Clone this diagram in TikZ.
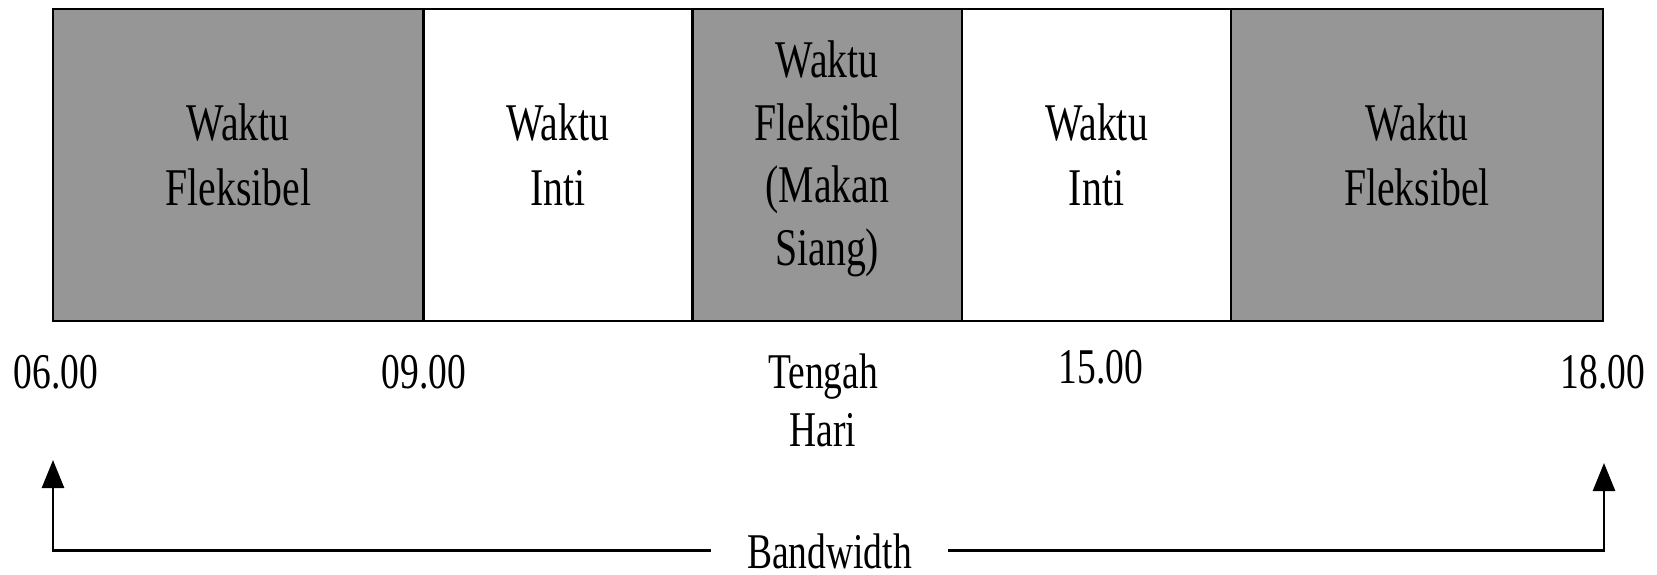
\documentclass[tikz,border=0pt]{standalone}
\usepackage{fontspec}
\setmainfont{Liberation Serif}[FakeStretch=0.75]
\usetikzlibrary{arrows.meta}
\definecolor{flexgray}{RGB}{150,150,150}
\tikzset{
  seg/.style={draw, line width=2.6pt, inner sep=0pt, outer sep=0pt, minimum height=312pt},
  flexseg/.style={seg, fill=flexgray},
  coreseg/.style={seg, fill=white},
  boxlbl/.style={inner sep=0pt, anchor=base, font=\fontsize{53}{65}\selectfont},
  timelbl/.style={inner sep=0pt, anchor=base, font=\fontsize{50}{58.4}\selectfont},
  conn/.style={line width=2.7pt, -{Triangle[width=22pt,length=28pt]}},
}
\begin{document}
\begin{tikzpicture}[x=1pt, y=-1pt]
\useasboundingbox (0,0) rectangle (1657,574);
% segments
\node[flexseg, minimum width=370.5pt] (s1) at (238.25,165) {};
\node[coreseg, minimum width=269pt]   (s2) at (558,165) {};
\node[flexseg, minimum width=269.5pt] (s3) at (827.25,165) {};
\node[coreseg, minimum width=269pt]   (s4) at (1096.5,165) {};
\node[flexseg, minimum width=372pt]   (s5) at (1417,165) {};
% segment labels
\node[boxlbl] (t1) at (238.25,140.5) {\begin{tabular}[t]{@{}c@{}}Waktu\\Fleksibel\end{tabular}};
\node[boxlbl] (t2) at (558,140.5) {\begin{tabular}[t]{@{}c@{}}Waktu\\Inti\end{tabular}};
\node[boxlbl, font=\fontsize{53}{62.7}\selectfont] (t3) at (827.25,77.3) {\begin{tabular}[t]{@{}c@{}}Waktu\\Fleksibel\\(Makan\\Siang)\end{tabular}};
\node[boxlbl] (t4) at (1096.5,140.5) {\begin{tabular}[t]{@{}c@{}}Waktu\\Inti\end{tabular}};
\node[boxlbl] (t5) at (1417,140.5) {\begin{tabular}[t]{@{}c@{}}Waktu\\Fleksibel\end{tabular}};
% time labels
\node[timelbl] (l06) at (56,388.3) {06.00};
\node[timelbl] (l09) at (424,388.3) {09.00};
\node[timelbl] (lnoon) at (823,388.3) {\begin{tabular}[t]{@{}c@{}}Tengah\\Hari\end{tabular}};
\node[timelbl] (l15) at (1101,383.3) {15.00};
\node[timelbl] (l18) at (1603,388.3) {18.00};
% bandwidth
\node[timelbl, inner xsep=36.5pt] (bw) at (829.5,568) {Bandwidth};
\coordinate (bl) at (53,550.7);
\coordinate (br) at (1604,550.7);
\coordinate (tipL) at (53,460);
\coordinate (tipR) at (1604,463);
\draw[conn] (bw.west |- bl) -- (bl) -- (tipL);
\draw[conn] (bw.east |- br) -- (br) -- (tipR);
\end{tikzpicture}
\end{document}
